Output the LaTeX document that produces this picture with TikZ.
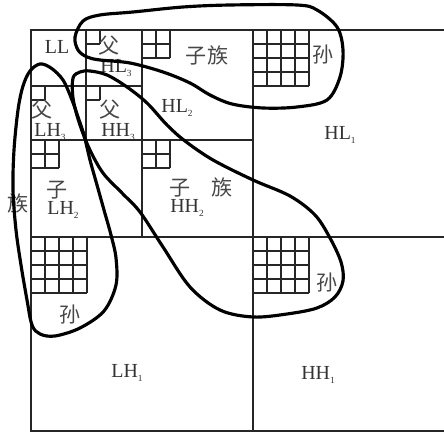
\documentclass[tikz,border=0pt]{standalone}
\usepackage{fontspec}
\setmainfont{Liberation Serif}
\newfontfamily\cjk{Noto Sans CJK SC}
\usepackage{tikz}
\tikzset{
  grille/.style={line width=1.5pt, draw=black!85},
  lasso/.style={line width=2.7pt, draw=black, line join=round},
  lbl/.style={font=\fontsize{17}{17}\selectfont, text=black!80, inner sep=0pt},
  han/.style={font=\cjk\fontsize{18}{18}\selectfont, text=black!72, inner sep=0pt},
}
\newcommand{\lev}[1]{\raisebox{-0.35ex}{\fontsize{8}{8}\selectfont #1}}
% n x n fine grid, 14px cells, top-left corner at (#1,#2)
\newcommand{\finegrid}[3]{%
  \foreach \k in {1,...,#3} {
    \draw[grille] ({#1+14*\k},#2) -- ++(0,{14*#3});
    \draw[grille] (#1,{#2+14*\k}) -- ++({14*#3},0);
  }}

\begin{document}
\begin{tikzpicture}[x=0.03cm, y=-0.03cm]
\useasboundingbox (0,0) rectangle (444,433);

% subband frame
\draw[grille] (444,30) -- (31,30) -- (31,431) -- (444,431);
\draw[grille] (31,237) -- (444,237);
\draw[grille] (253,30) -- (253,431);
\draw[grille] (142,30) -- (142,237);
\draw[grille] (31,140) -- (253,140);
\draw[grille] (86,30) -- (86,140);
\draw[grille] (31,86) -- (142,86);

% coefficient blocks
\finegrid{86}{30}{1}
\finegrid{31}{86}{1}
\finegrid{86}{86}{1}
\finegrid{142}{30}{2}
\finegrid{31}{140}{2}
\finegrid{142}{140}{2}
\finegrid{253}{30}{4}
\finegrid{31}{237}{4}
\finegrid{253}{237}{4}

% labels
\node[lbl] (ll) at (57,47) {LL};
\node[han] (fhl) at (109,46) {父};
\node[lbl] (hl3) at (116,68) {HL\lev{3}};
\node[han] (flh) at (42,110) {父};
\node[lbl] (lh3) at (50,132) {LH\lev{3}};
\node[han] (fhh) at (110,110) {父};
\node[lbl] (hh3) at (118,132) {HH\lev{3}};
\node[han] (zhl) at (207,55) {子族};
\node[lbl] (hl2) at (177,108) {HL\lev{2}};
\node[han] (shl) at (323,55) {孙};
\node[lbl] (hl1) at (340,135) {HL\lev{1}};
\node[han] (zlh) at (57,190) {子};
\node[lbl] (lh2) at (63,210) {LH\lev{2}};
\node[han] (zu) at (18,203) {族};
\node[han] (zhh) at (201,187) {子\quad 族};
\node[lbl] (hh2) at (187,208) {HH\lev{2}};
\node[han] (shh) at (327,283) {孙};
\node[han] (slh) at (70,315) {孙};
\node[lbl] (lh1) at (127,373) {LH\lev{1}};
\node[lbl] (hh1) at (318,375) {HH\lev{1}};

% tree loops
\draw[lasso] plot[smooth cycle, tension=0.55] coordinates {
  (75,37) (78,50) (87,57) (100,60) (130,63) (163,72) (190,83) (210,95)
  (232,104) (263,108) (297,107) (327,100) (340,77) (343,50) (337,27)
  (317,10) (297,5) (230,5) (183,7) (133,12) (100,15) (83,21)};
\draw[lasso] plot[smooth cycle, tension=0.55] coordinates {
  (40,64) (51,68) (63,80) (72,100) (78,117) (84,135) (90,160) (97,185)
  (104,210) (111,235) (116,258) (116,285) (104,311) (80,328) (55,336)
  (40,334) (32,325) (27,300) (21,265) (16,230) (13,190) (14,150)
  (18,110) (23,86) (30,71)};
\draw[lasso] plot[smooth cycle, tension=0.55] coordinates {
  (73,78) (80,72) (90,71) (107,75) (127,87) (147,103) (167,125)
  (185,141) (213,160) (253,180) (290,196) (315,215) (330,238) (341,262)
  (343,281) (335,297) (317,308) (287,314) (253,317) (220,310) (190,287)
  (163,247) (140,212) (122,193) (103,173) (89,148) (79,122) (73,98)};
\end{tikzpicture}
\end{document}
